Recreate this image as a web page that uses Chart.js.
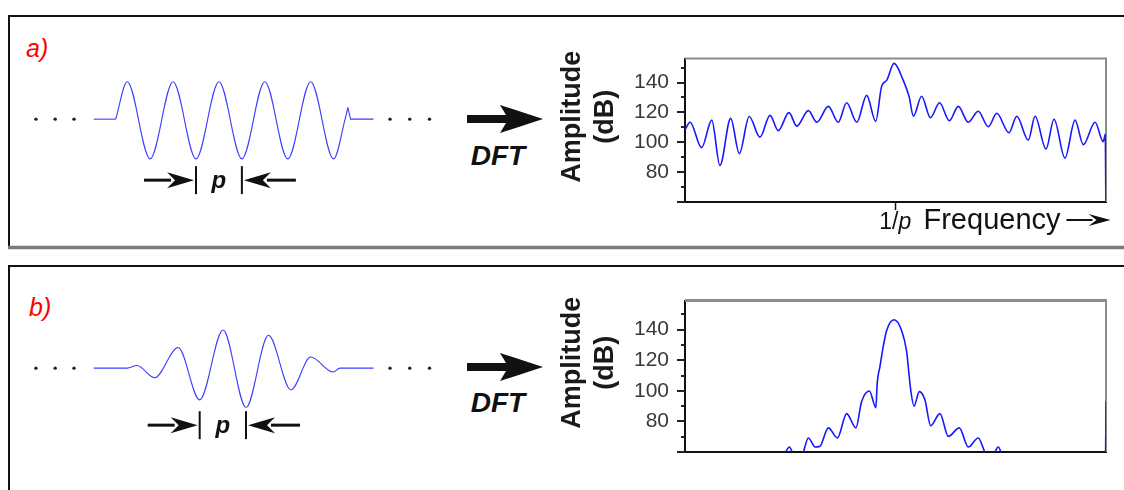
<!DOCTYPE html>
<html lang="en">
<head>
<meta charset="UTF-8" />
<title>Sinusoid bursts and their DFT</title>
<script src="https://cdn.jsdelivr.net/npm/chart.js"></script>
<style>
  body { margin:0; background:#fff; font-family:"Liberation Sans", Arial, sans-serif; }
  #page { position:relative; width:1124px; height:490px; overflow:hidden; }
  #page canvas, #page svg { position:absolute; }
</style>
</head>
<body>
<div id="page">
  <svg width="1124" height="490" style="left:0;top:0">
    <!-- panel frames -->
    <path d="M9 247 V16 H1130" fill="none" stroke="#111" stroke-width="2"/>
    <line x1="8" y1="247.5" x2="1130" y2="247.5" stroke="#7b7b7b" stroke-width="3.5"/>
    <path d="M9 495 V266 H1130" fill="none" stroke="#111" stroke-width="2"/>
    <text x="26" y="57" fill="#f00" font-style="italic" font-size="25">a)</text>
    <text x="29" y="316" fill="#f00" font-style="italic" font-size="25">b)</text>
    <!-- DFT arrows -->
    <path d="M467 115 H506 L500 105 L543 119 L500 133 L506 123 H467 Z" fill="#111"/>
    <text x="498" y="165" text-anchor="middle" font-weight="bold" font-style="italic" font-size="28" fill="#111">DFT</text>
    <path d="M467 363 H506 L500 353 L543 367 L500 381 L506 371 H467 Z" fill="#111"/>
    <text x="498" y="412" text-anchor="middle" font-weight="bold" font-style="italic" font-size="28" fill="#111">DFT</text>
  </svg>
  <canvas id="waveA" width="430" height="180" style="left:20px;top:54px"></canvas>
  <canvas id="waveB" width="430" height="180" style="left:20px;top:303px"></canvas>
  <canvas id="specA" width="568" height="220" style="left:556px;top:30px"></canvas>
  <canvas id="specB" width="568" height="218" style="left:556px;top:272px"></canvas>
</div>

<script>
// ---- time signals (t in periods of the carrier, amplitude normalised) ----
const dotsTime = [-1.74, -1.32, -0.91, 5.98, 6.41, 6.84];

// a) rectangular window
const leadATime = [-0.48, 0];
const leadAAmp  = [0, 0];
const waveATime = [0, 0.25, 0.75, 1.25, 1.75, 2.25, 2.75, 3.25, 3.75, 4.25, 4.75, 5.0, 5.06];
const waveAAmp  = [0, 0.98, -1.04, 0.98, -1.04, 0.98, -1.04, 0.98, -1.04, 0.98, -1.04, 0, 0.3];
const tailATime = [5.06, 5.12, 5.62];
const tailAAmp  = [0.3, 0, 0];

// b) tapered window
const waveBTime = [-0.48, 0.25, 0.46, 0.85, 1.36, 1.83, 2.34, 2.84, 3.33, 3.82, 4.25, 4.74, 4.89, 5.62];
const waveBAmp  = [0, 0, 0.07, -0.25, 0.54, -0.83, 1.0, -1.03, 0.86, -0.57, 0.29, -0.1, 0, 0];

// ---- spectra (frequency in units of 1/p, amplitude in dB) ----
const specAFreq = [0.000, 0.024, 0.079, 0.127, 0.166, 0.217, 0.258, 0.305, 0.356, 0.404,
                   0.443, 0.494, 0.531, 0.586, 0.626, 0.681, 0.728, 0.768, 0.816, 0.863,
                   0.906, 0.934, 0.958, 0.993, 1.037, 1.065, 1.085, 1.124, 1.166, 1.209,
                   1.256, 1.298, 1.346, 1.393, 1.441, 1.481, 1.539, 1.576, 1.631, 1.663,
                   1.715, 1.753, 1.805, 1.853, 1.892, 1.948, 1.987, 1.997, 2.000];
const specADb   = [108.4, 113.4, 96.4, 114.8, 84.4, 116, 92.4, 117.2, 103.4, 118,
                   107.8, 119.8, 110.8, 121.2, 113.4, 124, 113.4, 126.4, 113.4, 131.4,
                   114, 137.4, 141.4, 152.8, 141.4, 130.4, 117.4, 130.8, 116.4, 126.4,
                   114.4, 124, 113.4, 120.8, 110.4, 119.4, 106.4, 117.4, 101.4, 117.4,
                   95.4, 115.4, 89.4, 114.8, 98.4, 113.4, 100.4, 105.4, 40];

const specBFreq = [0.440, 0.475, 0.496, 0.518, 0.554, 0.586, 0.618, 0.641, 0.681, 0.724,
                   0.768, 0.812, 0.839, 0.876, 0.907, 0.913, 0.926, 0.940, 0.958, 0.993,
                   1.029, 1.053, 1.062, 1.072, 1.088, 1.113, 1.140, 1.167, 1.211, 1.251,
                   1.303, 1.346, 1.393, 1.433, 1.464, 1.488, 1.509, 1.550, 1.997, 2.000];
const specBDb   = [50, 59.3, 63.3, 58, 58, 69.2, 63.3, 63.8, 75.8, 69.2,
                   85.1, 75.8, 93, 99.9, 89, 104.9, 115.8, 127.6, 139.5, 146.5,
                   139.5, 125.7, 113.8, 100.9, 90, 99.5, 94, 77.2, 85.1, 70.2,
                   75.8, 63.3, 69.2, 58.5, 58.5, 63.3, 57, 45, 45, 93];

const dbTicks = [80, 100, 120, 140];

const pts = (xs, ys) => xs.map((x, i) => ({ x, y: ys[i] }));

const WAVE = '#3c3cff';
const SPEC = '#1616ff';

// arrow with a notched head, tip at (tipX, y), dir = +1 points right
function dart(ctx, tipX, y, dir, shaft, headLen, headHalf, lw) {
  ctx.lineWidth = lw;
  ctx.beginPath();
  ctx.moveTo(tipX - dir * shaft, y);
  ctx.lineTo(tipX - dir * (headLen - 4), y);
  ctx.stroke();
  ctx.beginPath();
  ctx.moveTo(tipX, y);
  ctx.lineTo(tipX - dir * headLen, y - headHalf);
  ctx.lineTo(tipX - dir * (headLen - 8), y);
  ctx.lineTo(tipX - dir * headLen, y + headHalf);
  ctx.closePath();
  ctx.fill();
}

// period marker under the burst: |<- p ->| drawn between two troughs
const periodMarker = {
  id: 'periodMarker',
  afterDraw(chart, args, opts) {
    const { ctx } = chart;
    const xs = chart.scales.x, ys = chart.scales.y;
    const x1 = xs.getPixelForValue(opts.from), x2 = xs.getPixelForValue(opts.to);
    const ay = ys.getPixelForValue(0) + opts.drop;
    ctx.save();
    ctx.strokeStyle = '#111'; ctx.fillStyle = '#111';
    ctx.lineWidth = 2;
    [x1, x2].forEach(x => {
      ctx.beginPath(); ctx.moveTo(x, ay - 14); ctx.lineTo(x, ay + 14); ctx.stroke();
    });
    dart(ctx, x1 - 2, ay, 1, 50, 27, 8, 3);
    dart(ctx, x2 + 2, ay, -1, 52, 27, 8, 3);
    ctx.font = 'italic bold 24px "Liberation Sans", Arial, sans-serif';
    ctx.textAlign = 'center';
    ctx.fillText('p', (x1 + x2) / 2, ay + 8);
    ctx.restore();
  }
};

// grey top/right edges of the plot box
const plotFrame = {
  id: 'plotFrame',
  beforeDatasetsDraw(chart, args, opts) {
    const { ctx, chartArea: a } = chart;
    ctx.save();
    ctx.strokeStyle = '#8c8c8c';
    ctx.lineWidth = opts.top;
    ctx.beginPath(); ctx.moveTo(a.left, a.top); ctx.lineTo(a.right + 1, a.top); ctx.stroke();
    ctx.lineWidth = 2;
    ctx.beginPath(); ctx.moveTo(a.right, a.top); ctx.lineTo(a.right, a.bottom); ctx.stroke();
    ctx.restore();
  }
};

// major (every 20 dB) and minor (every 10 dB) tick marks on the amplitude axis
const tickMarks = {
  id: 'tickMarks',
  afterDraw(chart) {
    const { ctx } = chart;
    const y = chart.scales.y, x0 = chart.chartArea.left;
    ctx.save();
    ctx.strokeStyle = '#222';
    ctx.lineWidth = 2;
    y.ticks.forEach(t => {
      const py = Math.round(y.getPixelForValue(t.value));
      const len = t.value % 20 === 0 ? 8 : 4;
      ctx.beginPath(); ctx.moveTo(x0 - len, py); ctx.lineTo(x0, py); ctx.stroke();
    });
    ctx.restore();
  }
};

// "1/p   Frequency ->" under the first spectrum
const freqAxis = {
  id: 'freqAxis',
  afterDraw(chart, args, opts) {
    if (!opts.show) return;
    const { ctx, chartArea: a } = chart;
    const tx = chart.scales.x.getPixelForValue(1);
    const base = a.bottom + 27;
    ctx.save();
    ctx.strokeStyle = '#111'; ctx.fillStyle = '#111';
    ctx.lineWidth = 1.5;
    ctx.beginPath(); ctx.moveTo(tx, a.bottom); ctx.lineTo(tx, a.bottom + 8); ctx.stroke();
    ctx.font = '23px "Liberation Sans", Arial, sans-serif';
    ctx.textAlign = 'right';
    ctx.fillText('1/', tx + 3, base);
    ctx.font = 'italic 23px "Liberation Sans", Arial, sans-serif';
    ctx.textAlign = 'left';
    ctx.fillText('p', tx + 3, base);
    ctx.font = '29px "Liberation Sans", Arial, sans-serif';
    ctx.fillText('Frequency', tx + 28, base);
    const w = ctx.measureText('Frequency').width;
    dart(ctx, tx + 28 + w + 50, base - 9, 1, 44, 22, 6, 2);
    ctx.restore();
  }
};

function waveChart(id, datasets, marker) {
  return new Chart(document.getElementById(id), {
    type: 'scatter',
    data: { datasets },
    options: {
      responsive: false, animation: false,
      layout: { padding: 0 },
      plugins: { legend: { display: false }, tooltip: { enabled: false }, periodMarker: marker },
      scales: {
        x: { type: 'linear', min: -2, max: 7.2, display: false },
        y: { min: -2.9, max: 1.6, display: false }
      }
    },
    plugins: [periodMarker]
  });
}

const line = (data, smooth) => ({
  data, showLine: true, pointRadius: 0, borderColor: WAVE, borderWidth: 1.1,
  cubicInterpolationMode: smooth ? 'monotone' : 'default', tension: 0
});
const dots = {
  data: pts(dotsTime, dotsTime.map(() => 0)), showLine: false,
  pointRadius: 1.7, backgroundColor: '#222', borderWidth: 0
};

waveChart('waveA', [
  line(pts(leadATime, leadAAmp), false),
  line(pts(waveATime, waveAAmp), true),
  line(pts(tailATime, tailAAmp), false),
  dots
], { from: 1.75, to: 2.75, drop: 61 });

waveChart('waveB', [
  line(pts(waveBTime, waveBAmp), true),
  dots
], { from: 1.83, to: 2.84, drop: 57 });

function specChart(id, freq, db, yMax, pad, showFreq, topEdge) {
  return new Chart(document.getElementById(id), {
    type: 'scatter',
    data: {
      datasets: [{
        data: pts(freq, db), showLine: true, pointRadius: 0,
        borderColor: SPEC, borderWidth: 1.6, cubicInterpolationMode: 'monotone'
      }]
    },
    options: {
      responsive: false, animation: false,
      layout: { padding: pad },
      plugins: {
        legend: { display: false }, tooltip: { enabled: false },
        freqAxis: { show: showFreq }, plotFrame: { top: topEdge }
      },
      scales: {
        x: {
          type: 'linear', min: 0, max: 2,
          grid: { display: false, drawTicks: false },
          ticks: { display: false },
          border: { color: '#111', width: 2 },
          afterFit(s) { s.height = 0; }
        },
        y: {
          min: 60, max: yMax,
          grid: { drawOnChartArea: false, drawTicks: false },
          border: { color: '#111', width: 2 },
          ticks: {
            stepSize: 10, includeBounds: false, autoSkip: false, padding: 16,
            color: '#3a3a3a',
            font: { family: '"Liberation Sans Narrow", "Arial Narrow", "Liberation Sans", Arial', size: 21 },
            callback: v => dbTicks.includes(v) ? String(v) : ''
          },
          title: {
            display: true, text: ['\u2002\u2002Amplitude', '\u2002\u2002(dB)'], color: '#1a1a1a', padding: 0,
            font: { family: '"Liberation Sans", Arial', size: 27, weight: 'bold', lineHeight: 1.22 }
          },
          afterFit(s) { s.width = 129; }
        }
      }
    },
    plugins: [plotFrame, tickMarks, freqAxis]
  });
}

specChart('specA', specAFreq, specADb, 156, { top: 12, right: 18, bottom: 48, left: 0 }, true, 2);
specChart('specB', specBFreq, specBDb, 159, { top: 12, right: 18, bottom: 38, left: 0 }, false, 3);
</script>
</body>
</html>
